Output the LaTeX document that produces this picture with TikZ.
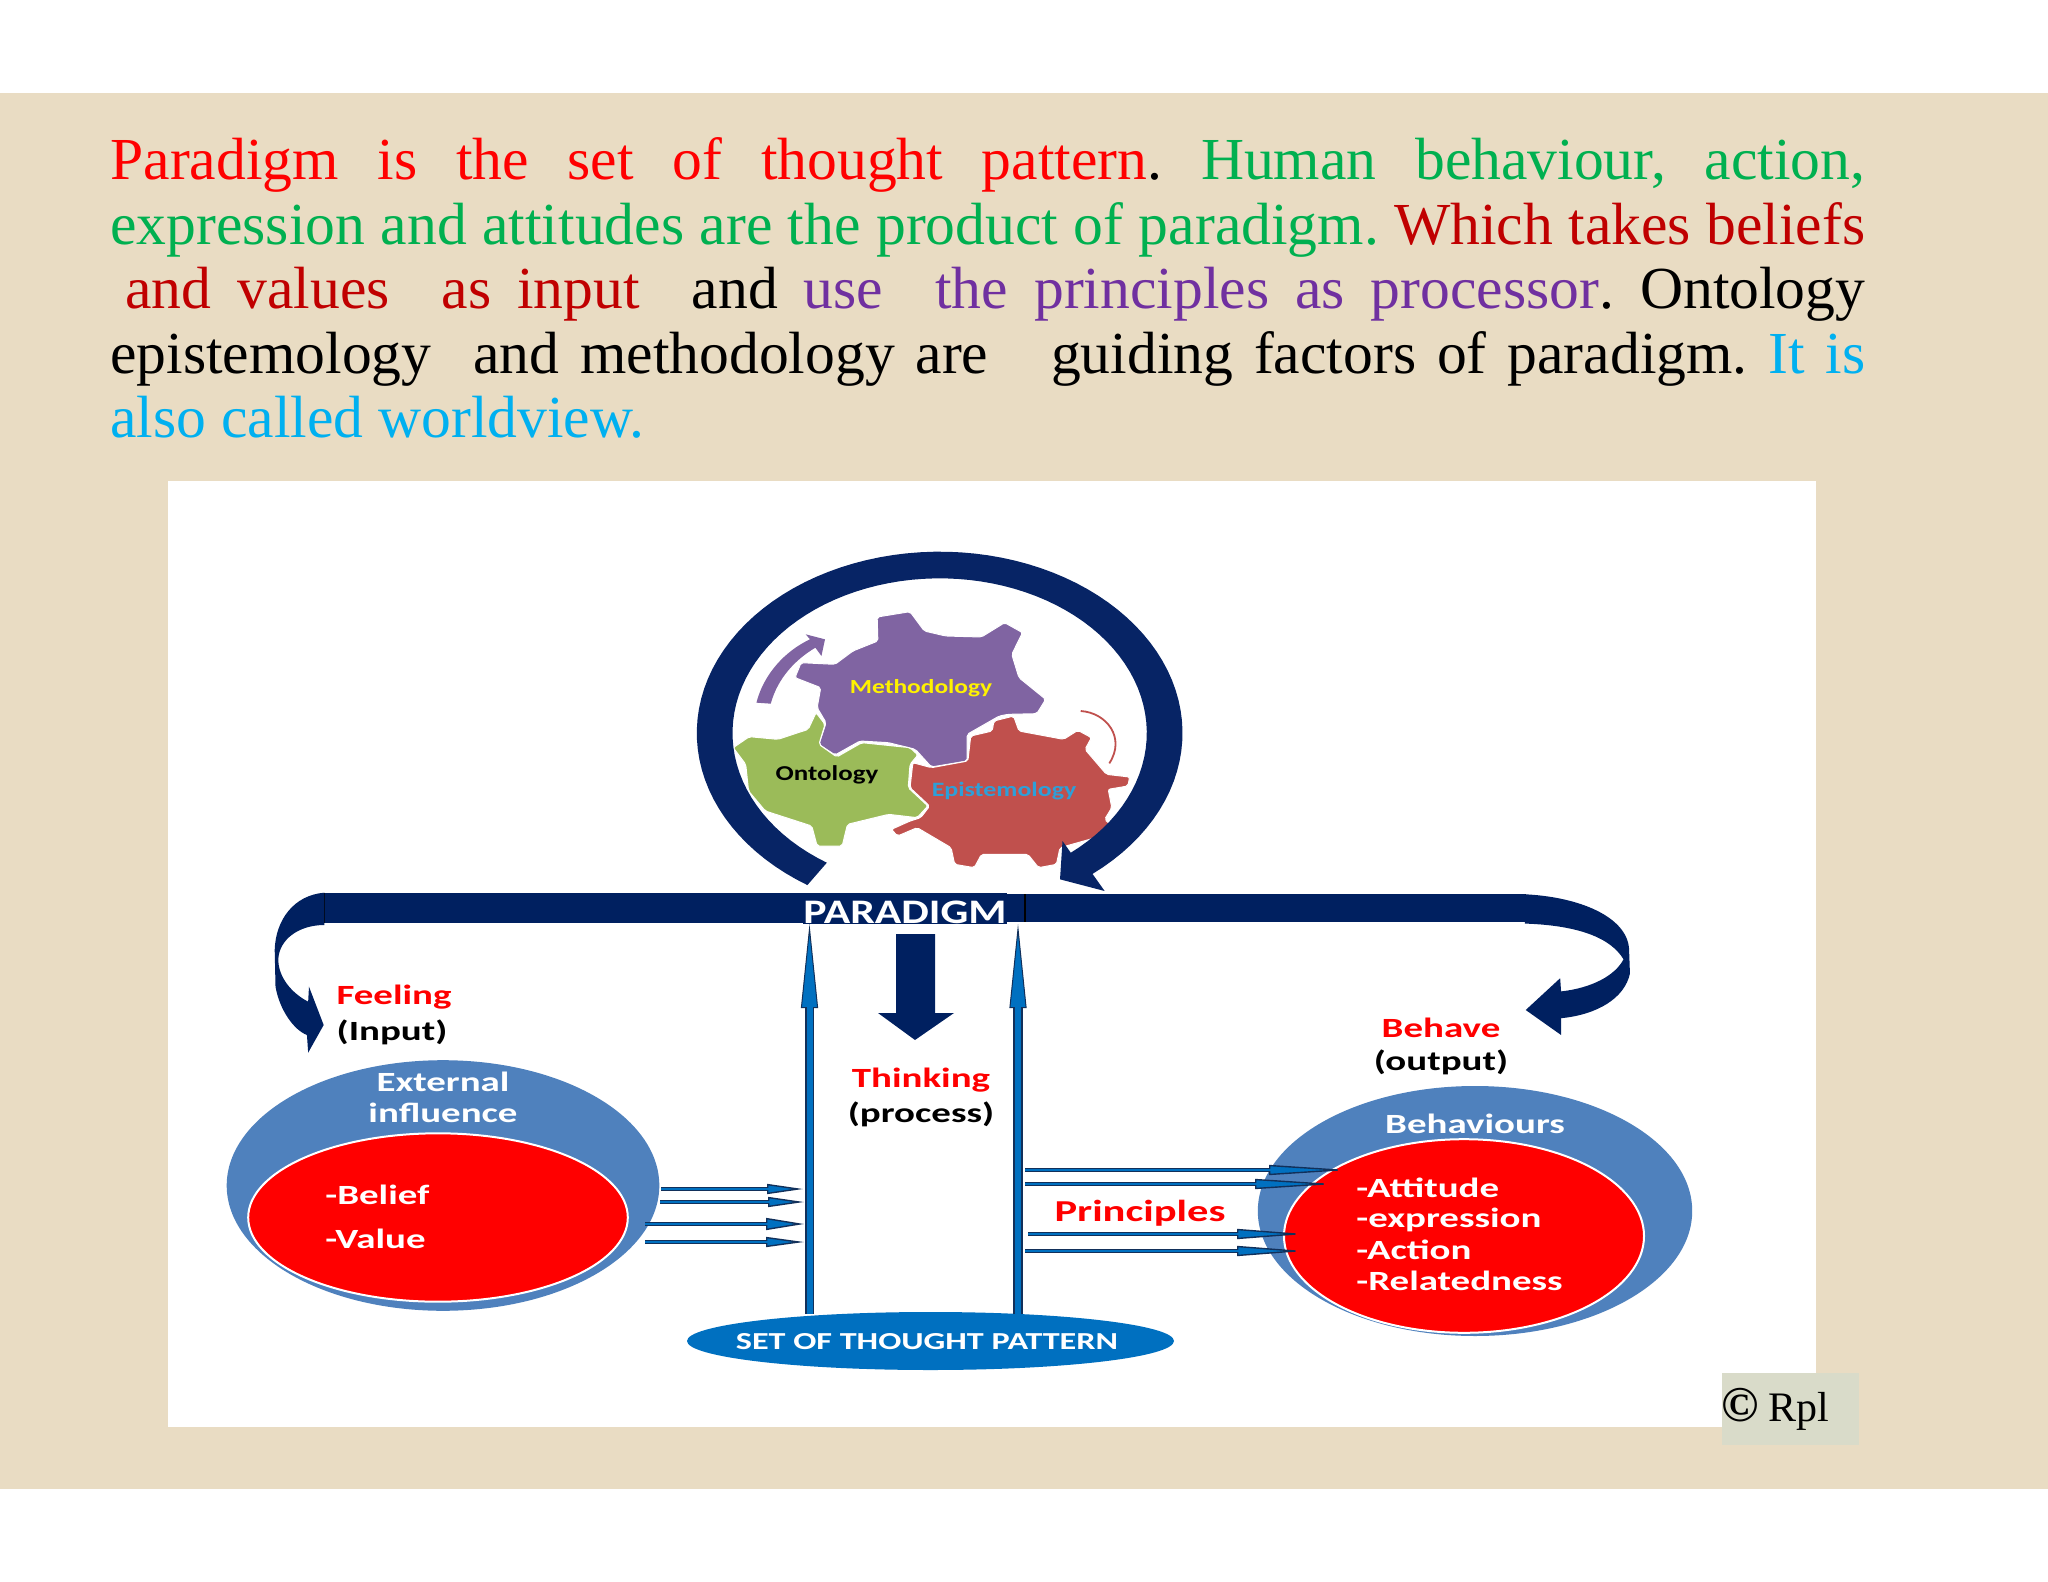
\documentclass[tikz,border=0pt]{standalone}
\usepackage{fontspec}
\setmainfont{Liberation Serif}
\newfontfamily\lab[FakeStretch=1.4]{Carlito}
\newfontfamily\labb[FakeStretch=1.27]{Carlito}
\usetikzlibrary{arrows.meta,shapes.geometric}
\definecolor{bgbeige}{HTML}{E9DCC3}
\definecolor{navybar}{HTML}{002060}
\definecolor{ringnavy}{HTML}{072465}
\definecolor{blueoval}{HTML}{4F81BD}
\definecolor{arrowblue}{HTML}{0070C0}
\definecolor{arrowedge}{HTML}{12305A}
\definecolor{gearpurple}{HTML}{8064A2}
\definecolor{geargreen}{HTML}{9BBB59}
\definecolor{gearred}{HTML}{C0504D}
\definecolor{txtgreen}{HTML}{00B050}
\definecolor{txtdred}{HTML}{C00000}
\definecolor{txtpurple}{HTML}{7030A0}
\definecolor{txtblue}{HTML}{00B0F0}
\definecolor{epiblue}{HTML}{2E9FD8}
\definecolor{rplbox}{HTML}{D9DBC9}
\newcommand\gp{\hskip 5pt plus 1fil minus 1fil\relax}
\tikzset{
  paraline/.style={anchor=base west,inner sep=0pt,font=\fontsize{29.8}{32}\selectfont},
  lab/.style={inner sep=0pt,font=\lab\bfseries\fontsize{13.9}{15}\selectfont},
  gearlab/.style={inner sep=0pt,font=\labb\bfseries\fontsize{#1}{12}\selectfont},
  gearshape/.style={draw=white,line width=0.5pt,rounded corners=1pt},
  thinarrow/.style args={#1/#2}{draw=arrowedge,line width=2.4pt,
    -{Triangle[length=#1,width=#2,fill=arrowblue,line width=0.7pt]},
    postaction={draw=arrowblue,line width=1.3pt,-,shorten >=#1-2pt}},
  bigarrow/.style={draw=arrowedge,line width=4.6pt,
    -{Triangle[length=42pt,width=8.5pt,fill=arrowblue,line width=0.5pt]},
    postaction={draw=arrowblue,line width=3pt,-,shorten >=41pt}},
  oval/.style={ellipse,inner sep=0pt,fill=blueoval},
  redoval/.style={ellipse,inner sep=0pt,fill=red,draw=white,line width=1pt},
}
\begin{document}
\begin{tikzpicture}[x=0.5pt,y=-0.5pt]
\useasboundingbox (0,0) rectangle (2048,1582);
\fill[white] (0,0) rectangle (2048,1582);
\fill[bgbeige] (0,93) rectangle (2048,1489);
\fill[white] (168,481) rectangle (1816,1427);
% paragraph
\node[paraline] (p1) at (110,180) {\hbox to 877.5pt{\color{red}Paradigm\gp is\gp the\gp set\gp of\gp thought\gp pattern\color{black}.\gp\color{txtgreen}Human\gp behaviour,\gp action,}};
\node[paraline] (p2) at (110,244.5) {\hbox to 877.5pt{\color{txtgreen}expression\gp and\gp attitudes\gp are\gp the\gp product\gp of\gp paradigm.\gp\color{txtdred}Which\gp takes\gp beliefs}};
\node[paraline] (p3) at (110,309) {\hbox to 877.5pt{\hskip 7.5pt\color{txtdred}and\gp values\gp\gp as\gp input\gp\gp\color{black}and\gp\color{txtpurple}use\gp\gp the\gp principles\gp as\gp processor\color{black}.\gp Ontology}};
\node[paraline] (p4) at (110,373.5) {\hbox to 877.5pt{epistemology\gp\gp and\gp methodology\gp are\gp\gp\gp guiding\gp factors\gp of\gp paradigm.\gp\color{txtblue}It\gp is}};
\node[paraline,text=txtblue] (p5) at (110,438) {also called worldview.};
% gears (coordinates of a detail view)
\begin{scope}[shift={(660,531)},x=0.17857pt,y=-0.16667pt]
\fill[gearpurple,gearshape] (608,258)--(700,242)--(740,300)--(800,315)--(900,318)--(965,275)--(1015,305)--(985,370)--(1005,440)--(1080,505)--(1055,548)--(975,550)--(950,555)--(860,610)--(860,690)--(760,708)--(715,655)--(640,635)--(560,630)--(490,672)--(445,640)--(465,575)--(440,530)--(450,470)--(378,440)--(395,395)--(490,400)--(540,360)--(610,330)--cycle;
\fill[geargreen,gearshape] (205,650)--(250,617)--(330,625)--(415,595)--(437,545)--(462,580)--(445,640)--(495,678)--(565,635)--(700,650)--(722,672)--(700,700)--(695,770)--(750,825)--(720,860)--(640,850)--(525,880)--(510,945)--(440,945)--(425,885)--(295,840)--(248,780)--(240,700)--cycle;
\fill[gearred,gearshape] (870,615)--(930,600)--(935,570)--(990,555)--(1005,600)--(1130,625)--(1170,598)--(1208,620)--(1190,655)--(1250,730)--(1315,738)--(1310,765)--(1255,775)--(1265,830)--(1245,865)--(1260,880)--(1220,920)--(1120,950)--(1110,1000)--(1060,1010)--(1030,970)--(900,970)--(880,1010)--(825,1000)--(815,950)--(720,890)--(665,915)--(648,895)--(700,870)--(730,860)--(755,825)--(700,770)--(708,695)--(760,710)--(862,690)--cycle;
\draw[gearred,line width=0.9pt] (1178,540) .. controls (1250,545) and (1305,620) .. (1258,697);
\fill[gearpurple] (270,515) .. controls (290,430) and (350,360) .. (420,325) -- (408,310) -- (462,325) -- (452,375) -- (435,350) .. controls (380,385) and (330,440) .. (310,518) -- cycle;
% ring with arrowhead
\fill[ringnavy] plot[domain=123:411,samples=90] ({783+680*cos(\x)},{606+544*sin(\x)})
  -- (1245,1080) -- (1120,1045) -- (1127,930) -- (1150,965)
  -- plot[domain=411:123,samples=90] ({783+580*cos(\x)},{606+464*sin(\x)}) -- cycle;
\end{scope}
\node[gearlab=10,text=yellow] (meth) at (921,688) {Methodology};
\node[gearlab=10.6,text=black] (onto) at (827,775) {Ontology};
\node[gearlab=10.2,text=epiblue] (epis) at (1004,791) {Epistemology};
% bars
\fill[navybar] (324,893) rectangle (805,923);
\fill[navybar] (1005,894) rectangle (1525,922);
\draw[black,line width=0.8pt] (1025,894) -- (1025,922);
\draw[black,line width=0.5pt] (324,893) -- (324,923);
\draw[black,line width=0.5pt] (1525,894) -- (1525,922);
% left curved arrow
\begin{scope}[shift={(200,870)},x=0.20408pt,y=-0.16667pt]
\fill[navybar] (305,68) .. controls (230,75) and (185,150) .. (183,240) -- (185,350) .. controls (195,420) and (230,480) .. (262,495) -- (265,548) -- (303,465) -- (267,350) -- (265,395) .. controls (225,370) and (190,320) .. (192,265) .. controls (195,210) and (240,165) .. (305,165) -- cycle;
\end{scope}
% right curved arrow
\begin{scope}[shift={(1000,870)},x=0.22957pt,y=-0.17857pt]
\fill[navybar] (1143,68) .. controls (1260,75) and (1365,130) .. (1370,220) -- (1372,290) .. controls (1360,360) and (1300,405) .. (1222,415) -- (1222,462) -- (1145,392) -- (1220,303) -- (1222,340) .. controls (1290,330) and (1340,295) .. (1358,250) .. controls (1330,190) and (1260,155) .. (1143,150) -- cycle;
\end{scope}
% down arrow
\fill[navybar] (896,934) -- (935,934) -- (935,1013) -- (954,1013) -- (915,1040) -- (878,1013) -- (896,1013) -- cycle;
% ovals
\node[oval,minimum width=216.3pt,minimum height=125.3pt] (extoval) at (443,1185.5) {};
\node[redoval,minimum width=189.8pt,minimum height=84.2pt] (beloval) at (438,1217.5) {};
\node[oval,minimum width=217.2pt,minimum height=125pt] (behoval) at (1475,1211) {};
\node[redoval,minimum width=180pt,minimum height=96.8pt] (attoval) at (1464,1236) {};
\node[ellipse,inner sep=0pt,fill=arrowblue,minimum width=243.5pt,minimum height=29pt] (setpat) at (930.5,1341) {};
% vertical arrows
\coordinate (vls) at (809.5,1314);
\coordinate (vle) at (809.5,924);
\coordinate (vrs) at (1018,1314);
\coordinate (vre) at (1018,924);
\draw[bigarrow] (vls) -- (vle);
\draw[bigarrow] (vrs) -- (vre);
\node[fill=navybar,inner sep=0pt,minimum width=100pt,minimum height=15.5pt,text=white,font=\labb\bfseries\fontsize{17.2}{18}\selectfont] (paradigm) at (905,908.5) {\raisebox{-7.3pt}[0pt][0pt]{PARADIGM}};
% input arrows
\coordinate (i1s) at (661,1189); \coordinate (i1e) at (803,1189);
\coordinate (i2s) at (660,1202); \coordinate (i2e) at (804,1202);
\coordinate (i3s) at (645,1224); \coordinate (i3e) at (804,1224);
\coordinate (i4s) at (645,1242); \coordinate (i4e) at (804,1242);
\draw[thinarrow=18pt/5pt] (i1s) -- (i1e);
\draw[thinarrow=18pt/5pt] (i2s) -- (i2e);
\draw[thinarrow=19pt/6pt] (i3s) -- (i3e);
\draw[thinarrow=19pt/5pt] (i4s) -- (i4e);
% output arrows
\coordinate (o1s) at (1025,1170); \coordinate (o1e) at (1349,1170);
\coordinate (o2s) at (1025,1184); \coordinate (o2e) at (1335,1184);
\coordinate (o3s) at (1028,1234); \coordinate (o3e) at (1305,1234);
\coordinate (o4s) at (1025,1251); \coordinate (o4e) at (1305,1251);
\draw[thinarrow=40pt/5pt] (o1s) -- (o1e);
\draw[thinarrow=40pt/5pt] (o2s) -- (o2e);
\draw[thinarrow=34pt/5pt] (o3s) -- (o3e);
\draw[thinarrow=34pt/5pt] (o4s) -- (o4e);
% labels
\node[lab,text=red] (feel) at (394,997) {Feeling};
\node[lab] (inp) at (392,1032) {(Input)};
\node[lab,text=white] (ext) at (443,1082) {External};
\node[lab,text=white] (inf) at (443,1113) {influence};
\node[lab,text=white,anchor=west] (bel) at (325,1195) {-Belief};
\node[lab,text=white,anchor=west] (val) at (325,1239) {-Value};
\node[lab,text=red] (thk) at (921,1080) {Thinking};
\node[lab] (proc) at (921,1114) {(process)};
\node[lab,text=red] (beh) at (1441,1028) {Behave};
\node[lab] (outp) at (1441,1062) {(output)};
\node[lab,text=white] (behs) at (1475,1124) {Behaviours};
\node[lab,text=red,font=\lab\bfseries\fontsize{15.2}{17}\selectfont] (prin) at (1140,1213) {Principles};
\node[lab,text=white,anchor=west] (a1) at (1356,1188) {-Attitude};
\node[lab,text=white,anchor=west] (a2) at (1356,1220) {-expression};
\node[lab,text=white,anchor=west] (a3) at (1356,1250) {-Action};
\node[lab,text=white,anchor=west] (a4) at (1356,1281) {-Relatedness};
\node[lab,text=white,font=\lab\bfseries\fontsize{12.2}{13}\selectfont] (settxt) at (927,1342) {SET OF THOUGHT PATTERN};
% copyright
\fill[rplbox] (1722,1373) rectangle (1859,1445);
\node[anchor=base west,inner sep=0pt] (rpl) at (1721,1421) {\fontsize{25}{26}\selectfont\bfseries©\mdseries\hskip 5pt\fontsize{21}{24}\selectfont Rpl};
\end{tikzpicture}
\end{document}
